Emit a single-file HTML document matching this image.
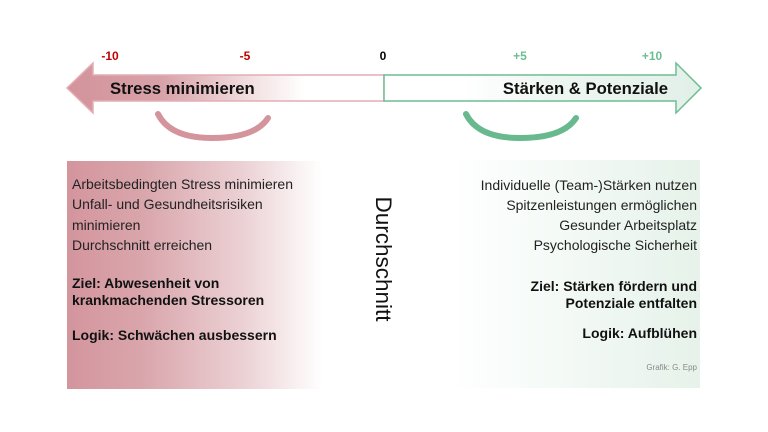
<!DOCTYPE html>
<html><head><meta charset="utf-8"><style>
html,body{margin:0;padding:0;background:#fff;}
svg{display:block;font-family:"Liberation Sans",Arial,sans-serif;}
</style></head><body>
<svg width="768" height="432" viewBox="0 0 768 432" xmlns="http://www.w3.org/2000/svg">
<defs>
<linearGradient id="la" x1="67" x2="384" y1="0" y2="0" gradientUnits="userSpaceOnUse">
<stop offset="0" stop-color="#d3939b"/><stop offset="0.3" stop-color="#d8a2a9"/><stop offset="0.6" stop-color="#f4e3e5"/><stop offset="0.75" stop-color="#fff"/><stop offset="1" stop-color="#fff"/>
</linearGradient>
<linearGradient id="ra" x1="384" x2="701" y1="0" y2="0" gradientUnits="userSpaceOnUse">
<stop offset="0" stop-color="#fff"/><stop offset="0.25" stop-color="#fff"/><stop offset="0.55" stop-color="#eef6f1"/><stop offset="1" stop-color="#e2f0e8"/>
</linearGradient>
<linearGradient id="lb" x1="67" x2="322" y1="0" y2="0" gradientUnits="userSpaceOnUse">
<stop offset="0" stop-color="#d4959d"/><stop offset="0.3" stop-color="#d9a6ac"/><stop offset="0.7" stop-color="#ecd2d5"/><stop offset="1" stop-color="#fff"/>
</linearGradient>
<linearGradient id="rb" x1="450" x2="700" y1="0" y2="0" gradientUnits="userSpaceOnUse">
<stop offset="0" stop-color="#fff"/><stop offset="0.4" stop-color="#f5faf7"/><stop offset="1" stop-color="#e6f2ea"/>
</linearGradient>
</defs>
<path d="M384,75 L93,75 L93,63 L67,88 L93,113 L93,101 L384,101 Z" fill="url(#la)" stroke="#e2aeb4" stroke-width="1.5"/>
<path d="M384,75 L676,75 L676,63 L701,88 L676,113 L676,101 L384,101 Z" fill="url(#ra)" stroke="#6dbd93" stroke-width="1.5"/>
<text x="110" y="60" font-size="12" font-weight="bold" fill="#c00000" text-anchor="middle">-10</text>
<text x="245" y="60" font-size="12" font-weight="bold" fill="#c00000" text-anchor="middle">-5</text>
<text x="383" y="60" font-size="12" font-weight="bold" fill="#000" text-anchor="middle">0</text>
<text x="520" y="60" font-size="12" font-weight="bold" fill="#6dbd93" text-anchor="middle">+5</text>
<text x="652" y="60" font-size="12" font-weight="bold" fill="#6dbd93" text-anchor="middle">+10</text>
<text x="110" y="94" font-size="16.7" font-weight="bold" fill="#111">Stress minimieren</text>
<text x="668" y="94" font-size="16.7" font-weight="bold" fill="#111" text-anchor="end">Stärken &amp; Potenziale</text>
<path d="M158,114 Q170,138 212,138 Q255,138 268,118" fill="none" stroke="#d4949c" stroke-width="6" stroke-linecap="round"/>
<path d="M466,114 Q478,138 520,138 Q563,138 576,118" fill="none" stroke="#68b98e" stroke-width="6" stroke-linecap="round"/>
<rect x="67" y="161" width="256" height="228" fill="url(#lb)"/>
<rect x="450" y="160" width="250" height="228" fill="url(#rb)"/>
<g font-size="14" fill="#222">
<text x="72" y="189">Arbeitsbedingten Stress minimieren</text>
<text x="72" y="209">Unfall- und Gesundheitsrisiken</text>
<text x="72" y="230">minimieren</text>
<text x="72" y="250">Durchschnitt erreichen</text>
</g>
<g font-size="14" font-weight="bold" fill="#111">
<text x="72" y="288">Ziel: Abwesenheit von</text>
<text x="72" y="305">krankmachenden Stressoren</text>
<text x="72" y="340">Logik: Schwächen ausbessern</text>
</g>
<g font-size="14" fill="#222" text-anchor="end">
<text x="697" y="190">Individuelle (Team-)Stärken nutzen</text>
<text x="697" y="210">Spitzenleistungen ermöglichen</text>
<text x="697" y="230">Gesunder Arbeitsplatz</text>
<text x="697" y="250">Psychologische Sicherheit</text>
</g>
<g font-size="14" font-weight="bold" fill="#111" text-anchor="end">
<text x="697" y="291">Ziel: Stärken fördern und</text>
<text x="697" y="308">Potenziale entfalten</text>
<text x="697" y="338">Logik: Aufblühen</text>
</g>
<text x="697" y="370" font-size="8" fill="#888" text-anchor="end">Grafik: G. Epp</text>
<text transform="translate(376,259) rotate(90)" font-size="22.5" fill="#111" text-anchor="middle">Durchschnitt</text>
</svg>
</body></html>
